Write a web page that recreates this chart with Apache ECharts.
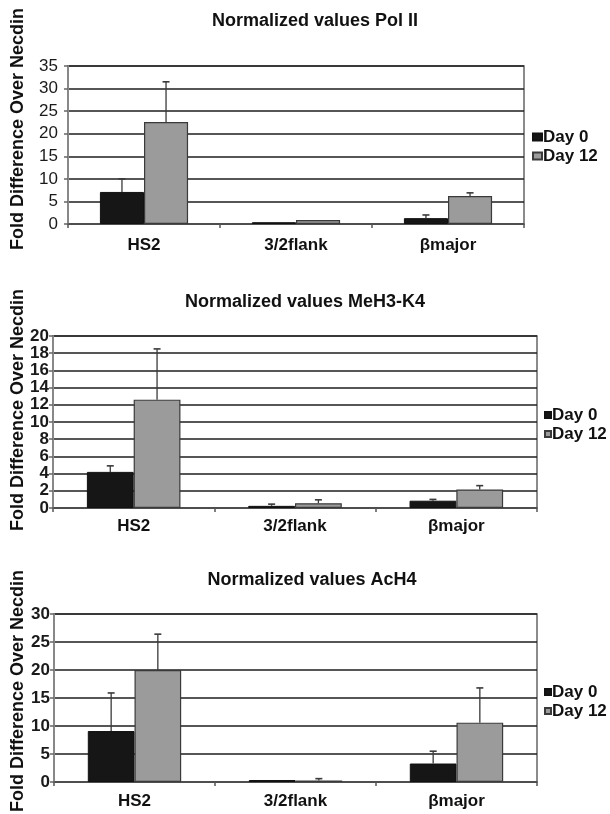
<!DOCTYPE html>
<html><head><meta charset="utf-8">
<script src="https://cdn.jsdelivr.net/npm/echarts@6/dist/echarts.min.js"></script>
<style>html,body{margin:0;padding:0;background:#fff}#c{width:610px;height:814px}</style>
</head><body><div id="c"></div>
<script>
// ---- data ----
const categories = ['HS2', '3/2flank', 'βmajor'];
const seriesNames = ['Day 0', 'Day 12'];
const titles = ['Normalized values Pol II', 'Normalized values MeH3-K4', 'Normalized values AcH4'];
const yAxisTitle = 'Fold Difference Over Necdin';

const polTicks = [0, 5, 10, 15, 20, 25, 30, 35];
const meTicks = [0, 2, 4, 6, 8, 10, 12, 14, 16, 18, 20];
const acTicks = [0, 5, 10, 15, 20, 25, 30];

// bar heights
const polDay0 = [7.1, 0.4, 1.3];
const polDay12 = [22.6, 0.9, 6.2];
const meDay0 = [4.2, 0.25, 0.85];
const meDay12 = [12.6, 0.55, 2.15];
const acDay0 = [9.1, 0.35, 3.3];
const acDay12 = [20.0, 0.25, 10.6];

// upper ends of error bars (null = none visible)
const polDay0Hi = [10.0, null, 2.0];
const polDay12Hi = [31.5, null, 6.9];
const meDay0Hi = [4.9, 0.45, 1.0];
const meDay12Hi = [18.5, 0.95, 2.6];
const acDay0Hi = [15.9, null, 5.5];
const acDay12Hi = [26.4, 0.6, 16.8];

// ---- layout / style ----
const FONT = '"Liberation Sans", Arial, sans-serif';
const panels = [
  { ticks: polTicks, d0: polDay0, d12: polDay12, h0: polDay0Hi, h12: polDay12Hi,
    grid: { left: 68, top: 66, width: 456, height: 158 }, labelBold: 'normal', labelMargin: 10, xMargin: 13,
    legendTop: 128, legendLeft: 532, icon: [9, 7], titlePos: [315, 21], yTitlePos: [18, 129] },
  { ticks: meTicks, d0: meDay0, d12: meDay12, h0: meDay0Hi, h12: meDay12Hi,
    grid: { left: 53, top: 336, width: 484, height: 172 }, labelBold: 'bold', labelMargin: 4, xMargin: 10,
    legendTop: 406, legendLeft: 544, icon: [6, 6], titlePos: [305, 302], yTitlePos: [18, 410] },
  { ticks: acTicks, d0: acDay0, d12: acDay12, h0: acDay0Hi, h12: acDay12Hi,
    grid: { left: 54, top: 614, width: 483, height: 168 }, labelBold: 'bold', labelMargin: 4, xMargin: 11,
    legendTop: 683, legendLeft: 544, icon: [6, 6], titlePos: [312, 580], yTitlePos: [18, 691] }
];

const BAR_FRAC = 0.29;
function errRender(side) {
  return function (params, api) {
    const ci = api.value(0), v = api.value(1), hi = api.value(2);
    const band = api.size([1, 0])[0];
    const bw = band * BAR_FRAC;
    const x = api.coord([ci, v])[0] + (side === 0 ? -bw / 2 : bw / 2);
    const y0 = api.coord([ci, v])[1];
    const y1 = api.coord([ci, hi])[1];
    return { type: 'group', children: [
      { type: 'line', shape: { x1: x, y1: y0, x2: x, y2: y1 }, style: { stroke: '#3a3a3a', lineWidth: 1.3 } },
      { type: 'line', shape: { x1: x - 3.5, y1: y1, x2: x + 3.5, y2: y1 }, style: { stroke: '#3a3a3a', lineWidth: 1.6 } }
    ]};
  };
}

const option = { animation: false, backgroundColor: '#fff', grid: [], xAxis: [], yAxis: [], series: [], legend: [], graphic: [] };

panels.forEach((p, i) => {
  option.grid.push(Object.assign({ show: true, borderColor: '#666', borderWidth: 1.5, backgroundColor: '#fff' }, p.grid));
  option.xAxis.push({
    type: 'category', gridIndex: i, data: categories,
    axisLine: { lineStyle: { color: '#555', width: 1.5 } },
    axisTick: { show: true, length: 4, lineStyle: { color: '#555', width: 1.5 } },
    axisLabel: { fontFamily: FONT, fontSize: 17, fontWeight: 'bold', color: '#111', margin: p.xMargin },
    splitLine: { show: false }
  });
  option.yAxis.push({
    type: 'value', gridIndex: i, min: p.ticks[0], max: p.ticks[p.ticks.length - 1],
    interval: p.ticks[1] - p.ticks[0],
    axisLine: { show: true, lineStyle: { color: '#888', width: 2 } },
    axisTick: { show: true, length: 4, lineStyle: { color: '#666', width: 1.5 } },
    axisLabel: { fontFamily: FONT, fontSize: 17, fontWeight: p.labelBold, color: '#1a1a1a', margin: p.labelMargin },
    splitLine: { show: true, lineStyle: { color: '#1e1e1e', width: 1.6 } }
  });
  option.series.push({
    name: seriesNames[0], type: 'bar', xAxisIndex: i, yAxisIndex: i, data: p.d0,
    barWidth: (BAR_FRAC * 100) + '%', barGap: '0%',
    itemStyle: { color: '#161616', borderColor: '#111', borderWidth: 1 }
  });
  option.series.push({
    name: seriesNames[1], type: 'bar', xAxisIndex: i, yAxisIndex: i, data: p.d12,
    barWidth: (BAR_FRAC * 100) + '%', barGap: '0%',
    itemStyle: { color: '#9b9b9b', borderColor: '#3a3a3a', borderWidth: 1.2 }
  });
  [[p.d0, p.h0], [p.d12, p.h12]].forEach((pair, side) => {
    const data = [];
    pair[0].forEach((v, ci) => { if (pair[1][ci] != null) data.push([ci, v, pair[1][ci]]); });
    option.series.push({
      name: seriesNames[side] + ' error', type: 'custom', xAxisIndex: i, yAxisIndex: i,
      renderItem: errRender(side), data: data, z: 5, encode: { x: 0, y: [1, 2] }
    });
  });
  option.legend.push({
    data: seriesNames, orient: 'vertical', left: p.legendLeft, top: p.legendTop,
    itemWidth: p.icon[0], itemHeight: p.icon[1], itemGap: 1, icon: 'rect',
    padding: 0, selectedMode: false,
    textStyle: { fontFamily: FONT, fontSize: 17, fontWeight: 'bold', color: '#111', lineHeight: 18, padding: [0, 0, 0, -4] }
  });
  option.graphic.push({
    type: 'text', x: p.titlePos[0], y: p.titlePos[1],
    style: { text: titles[i], font: 'bold 18px ' + FONT, fill: '#111', align: 'center', verticalAlign: 'middle' }
  });
  option.graphic.push({
    type: 'text', x: p.yTitlePos[0], y: p.yTitlePos[1], rotation: Math.PI / 2,
    style: { text: yAxisTitle, font: 'bold 18px ' + FONT, fill: '#111', align: 'center', verticalAlign: 'middle' }
  });
});

const chart = echarts.init(document.getElementById('c'), null, { renderer: 'canvas' });
chart.setOption(option);
</script>
</body></html>
